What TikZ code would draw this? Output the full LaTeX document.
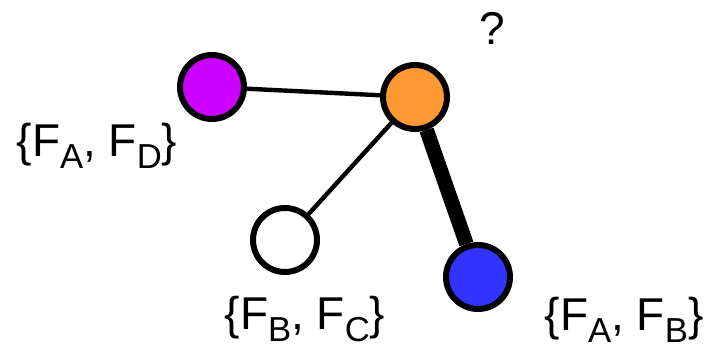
\documentclass[tikz,border=0pt]{standalone}
\usepackage{fontspec}
\setmainfont{Liberation Sans}
\usepackage{xcolor}
\usepackage{tikz}
\usetikzlibrary{positioning}
\definecolor{violet}{HTML}{CC00FF}
\definecolor{amber}{HTML}{FF9933}
\definecolor{royal}{HTML}{3333FF}
\newcommand{\feat}[1]{F\raisebox{-9pt}{\fontsize{26}{26}\selectfont #1}}
\tikzset{
  vtx/.style={circle, draw=black, line width=4.5pt, minimum size=48pt, inner sep=0pt},
  link/.style={line width=3.3pt},
  heavy/.style={line width=11pt},
  fset/.style={anchor=base, inner sep=0pt, font=\fontsize{34.5}{40}\selectfont},
}

\begin{document}
\begin{tikzpicture}[x=0.75pt,y=-0.75pt]
        \useasboundingbox (0,0) rectangle (707,348);
        \node[vtx,fill=violet] (P) at (212,87)  {};
        \node[vtx,fill=amber]  (O) at (415,97)  {};
        \node[vtx,fill=white]  (W) at (285,240) {};
        \node[vtx,fill=royal]  (B) at (478,277) {};
        \node[fset] (lP) at (97,157)  {\{\feat{A}, \feat{D}\}};
        \node[fset] (lO) at (492,45)  {?};
        \node[fset] (lW) at (305,330) {\{\feat{B}, \feat{C}\}};
        \node[fset] (lB) at (624,331) {\{\feat{A}, \feat{B}\}};
        \draw[link]  (P) -- (O);
        \draw[link]  (O) -- (W);
        \draw[heavy] (O) -- (B);
      \end{tikzpicture}
\end{document}
